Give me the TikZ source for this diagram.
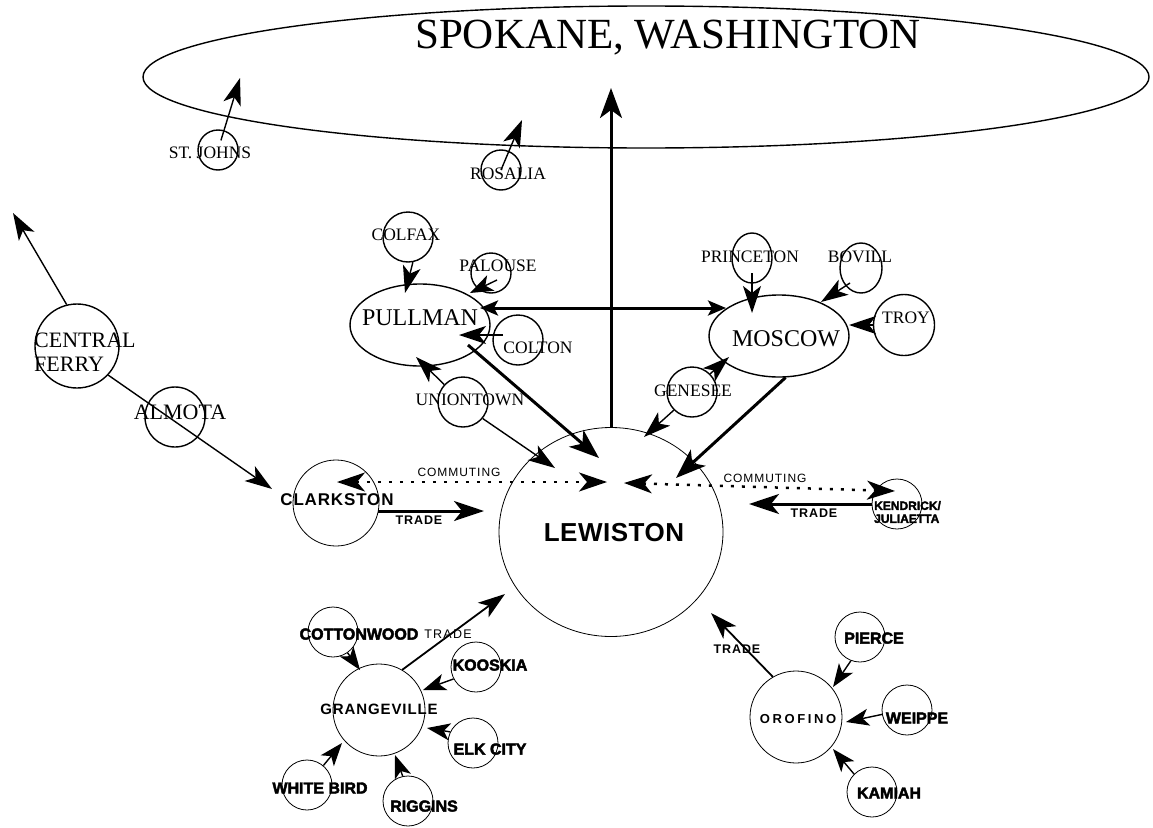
\documentclass[tikz,border=0pt]{standalone}
\usepackage{fontspec}
\setmainfont{Liberation Serif}
\setsansfont{Liberation Sans}
\newfontfamily\heavyfont[FakeBold=2.6]{Liberation Sans Bold}
\usetikzlibrary{shapes.geometric,arrows.meta}
\tikzset{
  serifcity/.style={circle,draw,line width=1.4pt,inner sep=0pt,minimum size=#1},
  sanscity/.style={circle,draw,line width=0.8pt,inner sep=0pt,minimum size=#1},
  ovalbase/.style={ellipse,draw,inner sep=0pt},
  lbl/.style={inner sep=0pt,text depth=0pt},
  serif/.style={lbl,font=\fontsize{17.5}{20}\selectfont},
  serifmid/.style={lbl,font=\fontsize{22}{24}\selectfont},
  serifbig/.style={lbl,font=\fontsize{24}{26}\selectfont},
  heavy/.style={lbl,font=\heavyfont\fontsize{16}{18}\selectfont},
  tradelbl/.style={lbl,font=\sffamily\bfseries\fontsize{12.5}{14}\selectfont\addfontfeature{LetterSpace=7}},
  commlbl/.style={lbl,font=\sffamily\fontsize{12}{14}\selectfont\addfontfeature{LetterSpace=8}},
  arr/.style={line width=1.4pt,-{Stealth[length=27pt,width=18pt,inset=7pt]}},
  shortarr/.style={line width=1.4pt,-{Stealth[length=23pt,width=17pt,inset=6pt]}},
  heavyarrow/.style={line width=3pt,-{Stealth[length=30pt,width=22pt,inset=8pt]}},
  doublearrow/.style={line width=3pt,{Stealth[length=18pt,width=15pt,inset=4pt]}-{Stealth[length=18pt,width=15pt,inset=4pt]}},
  commarrow/.style={line width=2.5pt,dash pattern=on 3pt off 8pt,{Stealth[length=28pt,width=19pt,inset=8pt]}-{Stealth[length=28pt,width=19pt,inset=8pt]}},
  tradearrow/.style={line width=3pt,-{Stealth[length=30pt,width=20pt,inset=8pt]}},
  jagarrow/.style={line width=1.8pt,-{Stealth[length=27pt,width=18pt,inset=7pt]}},
}
\begin{document}
\begin{tikzpicture}[x=1pt,y=-1pt]
\useasboundingbox (0,0) rectangle (1153,827);

% Spokane
\node[ovalbase,line width=1.4pt,minimum width=1006pt,minimum height=142pt] (spokane) at (646,77) {};
\node[lbl,font=\fontsize{43}{45}\selectfont] (spokanel) at (668,34) {SPOKANE, WASHINGTON};

% serif towns
\node[serifcity=40pt] (stjohns) at (218,150) {};
\node[serif] (stjohnsl) at (210,153) {ST. JOHNS};
\node[serifcity=40pt] (rosalia) at (501,170) {};
\node[serif] (rosalial) at (508,174) {ROSALIA};
\node[serifcity=84pt] (cferry) at (77,346) {};
\node[serifmid,align=left,anchor=west] (cferryl) at (34,352) {CENTRAL\\FERRY};
\node[serifcity=60pt] (almota) at (175,417) {};
\node[serifmid] (almotal) at (180,412) {ALMOTA};

\node[ovalbase,line width=1.4pt,minimum width=140pt,minimum height=82pt] (pullman) at (420,325) {};
\node[serifbig] (pullmanl) at (420,318) {PULLMAN};
\node[serifcity=50pt] (colfax) at (408,237) {};
\node[serif] (colfaxl) at (406,235) {COLFAX};
\node[serifcity=40pt] (palouse) at (491,273) {};
\node[serif] (palousel) at (498,266) {PALOUSE};
\node[serifcity=50pt] (colton) at (518,340) {};
\node[serif] (coltonl) at (538,348) {COLTON};
\node[serifcity=50pt] (uniontown) at (463,402) {};
\node[serif] (uniontownl) at (470,400) {UNIONTOWN};

\node[ovalbase,line width=1.4pt,minimum width=140pt,minimum height=82pt] (moscow) at (779,336) {};
\node[serifbig] (moscowl) at (786,339) {MOSCOW};
\node[ovalbase,line width=1.4pt,minimum width=40pt,minimum height=50pt] (princeton) at (752,258) {};
\node[serif] (princetonl) at (750,257) {PRINCETON};
\node[ovalbase,line width=1.4pt,minimum width=42pt,minimum height=50pt] (bovill) at (861,268) {};
\node[serif] (bovilll) at (860,257) {BOVILL};
\node[serifcity=61pt] (troy) at (904,325) {};
\node[serif] (troyl) at (906,318) {TROY};
\node[serifcity=50pt] (genesee) at (692,392) {};
\node[serif] (geneseel) at (693,391) {GENESEE};

% sans towns
\node[ovalbase,line width=0.8pt,minimum width=224pt,minimum height=209pt] (lewiston) at (611,532) {};
\node[lbl,font=\sffamily\bfseries\fontsize{26}{28}\selectfont\addfontfeature{LetterSpace=2}] (lewistonl) at (614,532) {LEWISTON};
\node[sanscity=86pt] (clarkston) at (336,503) {};
\node[lbl,font=\sffamily\bfseries\fontsize{17}{19}\selectfont\addfontfeature{LetterSpace=5}] (clarkstonl) at (337,500) {CLARKSTON};
\node[sanscity=50pt] (kendrick) at (897,504) {};
\node[lbl,font=\heavyfont\fontsize{12}{13}\selectfont,align=left,anchor=west] (kendrickl) at (874,512) {KENDRICK/\\JULIAETTA};

\node[sanscity=92pt] (grangeville) at (379,710) {};
\node[lbl,font=\sffamily\bfseries\fontsize{15}{17}\selectfont\addfontfeature{LetterSpace=6}] (grangevillel) at (379,709) {GRANGEVILLE};
\node[sanscity=50pt] (cottonwood) at (333,632) {};
\node[heavy] (cottonwoodl) at (359,634) {COTTONWOOD};
\node[sanscity=50pt] (kooskia) at (476,667) {};
\node[heavy] (kooskial) at (490,665) {KOOSKIA};
\node[sanscity=50pt] (elkcity) at (473,743) {};
\node[heavy] (elkcityl) at (490,749) {ELK CITY};
\node[sanscity=50pt] (whitebird) at (307,785) {};
\node[heavy] (whitebirdl) at (320,788) {WHITE BIRD};
\node[sanscity=50pt] (riggins) at (408,801) {};
\node[heavy] (rigginsl) at (424,806) {RIGGINS};

\node[sanscity=92pt] (orofino) at (796,717) {};
\node[lbl,font=\sffamily\bfseries\fontsize{13}{15}\selectfont\addfontfeature{LetterSpace=20}] (orofinol) at (798,719) {OROFINO};
\node[sanscity=50pt] (pierce) at (860,637) {};
\node[heavy] (piercel) at (874,638) {PIERCE};
\node[sanscity=50pt] (weippe) at (907,710) {};
\node[heavy] (weippel) at (917,718) {WEIPPE};
\node[sanscity=50pt] (kamiah) at (872,792) {};
\node[heavy] (kamiahl) at (889,793) {KAMIAH};

% connector labels
\node[commlbl] (comml) at (459,472) {COMMUTING};
\node[commlbl] (commr) at (765,478) {COMMUTING};
\node[tradelbl] (tradel) at (419,520) {TRADE};
\node[tradelbl] (trader) at (814,513) {TRADE};
\node[lbl,font=\sffamily\fontsize{12.5}{14}\selectfont\addfontfeature{LetterSpace=10}] (tradeg) at (448,634) {TRADE};
\node[tradelbl] (tradeo) at (737,649) {TRADE};

% free ends
\coordinate (stjohnsT) at (240,78);
\coordinate (rosaliaT) at (522,120);
\coordinate (spokaneT) at (611,88);
\coordinate (cferryT) at (13,213);
\coordinate (clarkstonT) at (272,489);
\coordinate (colfaxT) at (405,293);
\coordinate (palouseS) at (497,280);
\coordinate (palouseT) at (470,293);
\coordinate (coltonS) at (503,335);
\coordinate (coltonT) at (459,335);
\coordinate (pullmanT) at (416,357);
\coordinate (lewistonTu) at (555,468);
\coordinate (pullmanS) at (468,345);
\coordinate (lewistonTp) at (599,458);
\coordinate (pmW) at (480,308);
\coordinate (pmE) at (726,308);
\coordinate (princetonS) at (752,273);
\coordinate (princetonT) at (752,313);
\coordinate (bovillS) at (850,283);
\coordinate (bovillT) at (821,302);
\coordinate (troyT) at (849,325);
\coordinate (moscowTg) at (729,357);
\coordinate (lewistonTg) at (644,437);
\coordinate (lewistonTm) at (676,478);
\coordinate (commL1) at (337,482);
\coordinate (commL2) at (607,482);
\coordinate (commR1) at (624,483);
\coordinate (commR2) at (895,491);
\coordinate (tradeLS) at (378,511);
\coordinate (tradeLT) at (484,511);
\coordinate (tradeRT) at (749,504);
\coordinate (grangeT1) at (360,670);
\coordinate (lewistonTgr) at (505,594);
\coordinate (grangeT2) at (423,690);
\coordinate (grangeT3) at (427,728);
\coordinate (grangeT4) at (342,743);
\coordinate (grangeT5) at (395,755);
\coordinate (lewistonTo) at (711,613);
\coordinate (orofinoT1) at (833,687);
\coordinate (orofinoT2) at (846,722);
\coordinate (orofinoT3) at (833,749);

% connectors
\draw[arr,shorten <=10pt] (stjohns.center) -- (stjohnsT);
\draw[arr] (rosalia.center) -- (rosaliaT);
\draw[heavyarrow] (lewiston.north) -- (spokaneT);
\draw[arr] (cferry.104) -- (cferryT);
\draw[arr] (cferry.-43) -- (clarkstonT);
\draw[arr] (colfax.-79) -- (colfaxT);
\draw[shortarr] (palouseS) -- (palouseT);
\draw[arr] (coltonS) -- (coltonT);
\draw[arr] (uniontown.137) -- (pullmanT);
\draw[arr] (uniontown.-40) -- (lewistonTu);
\draw[heavyarrow] (pullmanS) -- (lewistonTp);
\draw[doublearrow] (pmW) -- (pmE);
\draw[arr] (princetonS) -- (princetonT);
\draw[arr] (bovillS) -- (bovillT);
\draw[arr] (troy.west) -- (troyT);
\draw[arr] (genesee.45) -- (moscowTg);
\draw[arr] (genesee.-135) -- (lewistonTg);
\draw[heavyarrow] (moscow.-81) -- (lewistonTm);
\draw[commarrow] (commL1) -- (commL2);
\draw[commarrow] (commR1) -- (commR2);
\draw[tradearrow] (tradeLS) -- (tradeLT);
\draw[tradearrow] (kendrick.west) -- (tradeRT);
\draw[shortarr] (cottonwood.-55) -- (grangeT1);
\draw[jagarrow] (grangeville.60) -- (lewistonTgr);
\draw[shortarr] (kooskia.-152) -- (grangeT2);
\draw[shortarr] (elkcity.154) -- (grangeT3);
\draw[shortarr] (whitebird.50) -- (grangeT4);
\draw[shortarr] (riggins.102) -- (grangeT5);
\draw[jagarrow] (orofino.120) -- (lewistonTo);
\draw[shortarr] (pierce.-111) -- (orofinoT1);
\draw[shortarr] (weippe.190) -- (orofinoT2);
\draw[shortarr] (kamiah.135) -- (orofinoT3);
\end{tikzpicture}
\end{document}
